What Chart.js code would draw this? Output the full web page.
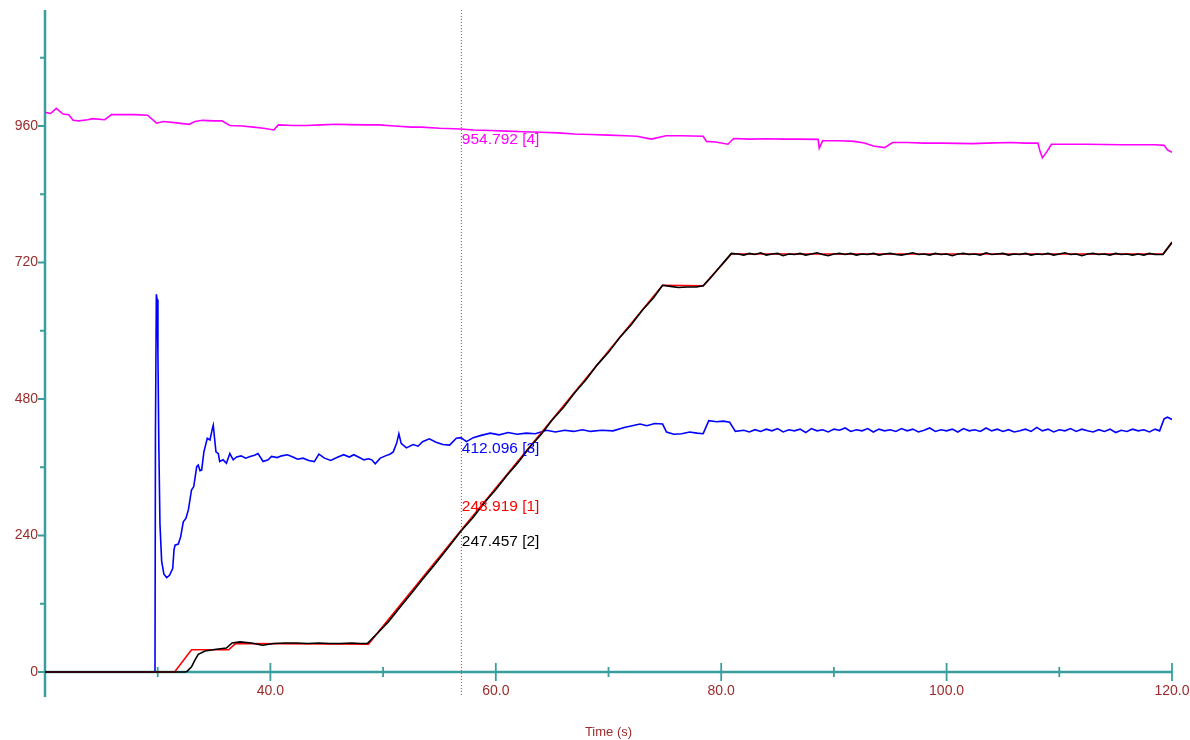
<!DOCTYPE html>
<html>
<head>
<meta charset="utf-8">
<script src="https://cdn.jsdelivr.net/npm/chart.js@4"></script>
<style>
  body { margin: 0; background: #fff; }
  canvas { display: block; }
</style>
</head>
<body>
<canvas id="trendChart" width="1190" height="740"></canvas>
<script>
// axis setup
const xMin = 20, xMax = 120;
const yMin = -44, yMax = 1164;
const xMajorTicks = [40, 60, 80, 100, 120];
const xMajorLabels = ['40.0', '60.0', '80.0', '100.0', '120.0'];
const xMinorTicks = [30, 50, 70, 90, 110];
const yMajorTicks = [0, 240, 480, 720, 960];
const yMajorLabels = ['0', '240', '480', '720', '960'];
const yMinorTicks = [120, 360, 600, 840, 1080];
const xTitle = 'Time (s)';

// cursor readout
const cursorT = 56.9;
const readValues = [248.919, 247.457, 412.096, 954.792];
const readTags = ['[1]', '[2]', '[3]', '[4]'];
const readColors = ['#ff0000', '#000000', '#0000ff', '#ff00ff'];

// [1] red
const redT = [20, 31.5, 33.0, 36.3, 36.9, 48.7, 56.9, 74.8, 78.4, 80.9, 119.2, 120];
const redV = [0, 0, 39, 39, 50, 49, 248.9, 680, 679, 735, 735, 756];

// [2] black
const blkT = [20, 32.4, 32.6, 33.0, 33.3, 33.6, 34.2, 35.2, 36.1, 36.6, 37.3, 38.3, 39.3, 40.3, 41.3, 42.3, 43.3, 44.3, 45.2, 46.2, 47.2, 48.0, 48.6,
  49.5, 50.5, 51.5, 52.5, 53.5, 54.5, 55.5, 56.9, 58, 59, 60, 61, 62, 63, 64, 65, 66, 67, 68, 69, 70, 71, 72, 73, 74, 74.8,
  75.5, 76.2, 77, 77.8, 78.4, 79.0, 79.7, 80.3, 80.9,
  81.5, 82, 82.5, 83, 83.5, 84, 84.5, 85, 85.5, 86, 86.5, 87, 87.5, 88, 88.5, 89, 89.5, 90, 90.5, 91, 91.5, 92, 92.5, 93, 93.5,
  94, 94.5, 95, 95.5, 96, 96.5, 97, 97.5, 98, 98.5, 99, 99.5, 100, 100.5, 101, 101.5, 102, 102.5, 103, 103.5, 104, 104.5, 105, 105.5,
  106, 106.5, 107, 107.5, 108, 108.5, 109, 109.5, 110, 110.5, 111, 111.5, 112, 112.5, 113, 113.5, 114, 114.5, 115, 115.5, 116, 116.5,
  117, 117.5, 118, 118.5, 119.2, 120];
const blkV = [0, 0, 1, 9, 21, 31, 37, 40, 42, 51, 53, 51, 47, 50, 51, 51, 50, 51, 50, 50, 51, 50, 50,
  68, 89, 114, 138, 163, 187, 212, 247.5, 272, 298, 321, 346, 369, 395, 417, 443, 465, 491, 514, 540, 562, 588, 610, 636, 658, 680,
  678, 676, 677, 677, 679, 692, 708, 722, 736,
  735, 733, 736, 734, 737, 733, 735, 736, 732, 735, 734, 736, 733, 735, 737, 734, 732, 735, 736, 734, 736, 733, 735, 734, 736,
  733, 735, 736, 734, 733, 735, 737, 734, 735, 733, 736, 734, 735, 732, 735, 736, 734, 735, 733, 737, 734, 735, 736, 733,
  735, 734, 736, 733, 735, 734, 736, 733, 735, 737, 734, 735, 732, 735, 736, 734, 735, 733, 736, 734, 735, 733,
  735, 733, 736, 734, 734, 755];

// [3] blue
const bluT = [20, 29.76, 29.8, 29.88, 29.95, 30.02, 30.1, 30.2, 30.35, 30.55, 30.8, 31.05, 31.33, 31.45, 31.54, 31.83, 32.04, 32.27, 32.5, 32.72,
  33.0, 33.2, 33.46, 33.6, 33.75, 33.9, 34.1, 34.4, 34.64, 34.85, 34.93, 35.05, 35.17, 35.38, 35.5, 35.8, 36.1, 36.4, 36.7, 37.0,
  37.4, 37.8, 38.2, 38.6, 38.9, 39.35, 39.8, 40.1, 40.6, 41.0, 41.5, 42.0, 42.4, 42.9, 43.4, 43.9, 44.3, 44.8, 45.36, 45.9,
  46.5, 47.0, 47.4, 47.9, 48.3, 48.7, 49.0, 49.3, 49.75, 50.2, 50.6, 50.9, 51.2, 51.4, 51.6, 52.07, 52.66, 53.1, 53.5, 54.1,
  54.7, 55.3, 55.9, 56.5, 56.9, 57.4, 58.0, 58.7, 59.5, 60.3, 61.1, 61.9, 62.7, 63.5, 64.5, 65.3, 66.1, 66.9, 67.7, 68.4,
  69.4, 70.4, 71.4, 72.1, 72.8, 73.4, 74.1, 74.8, 75.15, 75.8, 76.5, 77.2, 77.85, 78.4, 78.9, 79.6, 80.2, 80.75, 81.26, 82.0,
  82.5, 83, 83.5, 84, 84.5, 85, 85.5, 86, 86.5, 87, 87.5, 88, 88.5, 89, 89.5, 90, 90.5, 91, 91.5, 92, 92.5, 93, 93.5, 94, 94.5,
  95, 95.5, 96, 96.5, 97, 97.5, 98, 98.5, 99, 99.5, 100, 100.5, 101, 101.5, 102, 102.5, 103, 103.5, 104, 104.5, 105, 105.5, 106,
  106.5, 107, 107.5, 108, 108.5, 109, 109.5, 110, 110.5, 111, 111.5, 112, 112.5, 113, 113.5, 114, 114.5, 115, 115.5, 116, 116.5,
  117, 117.5, 118, 118.5, 118.9, 119.3, 119.6, 120];
const bluV = [0, 0, 420, 664, 655, 560, 400, 260, 195, 172, 166, 170, 182, 215, 223, 225, 238, 264, 270, 285,
  320, 326, 361, 364, 354, 355, 387, 411, 408, 428, 434, 410, 387, 384, 370, 373, 367, 384, 373, 378,
  380, 376, 379, 381, 384, 370, 373, 379, 377, 380, 382, 378, 374, 376, 372, 370, 383, 376, 372, 377,
  382, 378, 382, 377, 373, 375, 373, 366, 376, 380, 383, 387, 402, 419, 402, 394, 400, 397, 405, 410,
  404, 400, 399, 411, 412, 405, 412, 416, 420, 417, 421, 418, 420, 419, 425, 422, 425, 423, 426, 423,
  425, 424, 430, 433, 436, 433, 437, 436, 422, 418, 419, 422, 420, 419, 442, 440, 441, 439, 423, 425,
  422, 426, 423, 427, 424, 428, 422, 426, 424, 427, 421, 428, 424, 426, 422, 427, 425, 429, 423, 426, 424, 428, 422, 427, 424,
  426, 423, 428, 424, 427, 422, 425, 429, 423, 426, 424, 427, 422, 428, 424, 426, 423, 429, 424, 427, 423, 426, 422,
  424, 427, 423, 430, 424, 427, 422, 426, 424, 428, 423, 427, 424, 422, 426, 423, 427, 421, 425, 423, 427,
  424, 426, 422, 427, 424, 445, 448, 444];

// [4] magenta
const magT = [20, 20.5, 21.0, 21.6, 22.1, 22.5, 23.0, 23.8, 24.2, 25.3, 25.9, 27, 28, 29.1, 29.9, 30.5, 31.5, 32.8, 33.3, 34.0,
  35.0, 35.7, 36.4, 37.5, 38.5, 39.4, 40.3, 40.7, 42, 43.2, 44.5, 45.9, 47, 48.5, 49.6, 51, 52.5, 53.4, 55, 56.9,
  58, 59.5, 61, 62.5, 64, 65.5, 67, 68.4, 70, 71.5, 72.5, 73.8, 75.1, 76.5, 78.4, 78.7, 79.5, 80.6, 81.1, 82.5,
  84, 85.5, 87, 88.6, 88.7, 89.0, 90.5, 91.8, 92.7, 93.5, 94.5, 95.2, 96.5, 98, 99.5, 101, 102.3, 103.5, 105.7, 107,
  108.1, 108.3, 108.5, 108.9, 109.3, 111, 112.5, 114, 115.5, 117, 118.5, 119.3, 119.6, 120];
const magV = [984, 982, 991, 981, 980, 970, 969, 971, 973, 971, 980, 980, 980, 979, 965, 968, 966, 963, 968, 970,
  969, 969, 961, 960, 958, 956, 953, 962, 961, 961, 962, 963, 962.5, 962, 962, 960, 958, 958, 956, 954.8,
  953, 952, 951, 950, 949, 948, 946, 945, 944, 943, 942, 937, 943, 943, 942, 933, 932, 928, 938, 937,
  937.5, 937, 937, 936.5, 921, 934, 934, 933, 930, 925, 922, 931, 931, 930, 930, 929.5, 929, 930, 931, 930,
  930, 915, 904, 915, 928, 928, 928, 927.5, 927, 927, 927, 926, 918, 914];

const teal = '#3a9e9e';
const tickText = '#9c2a2a';
const font = '"Liberation Sans", Arial, sans-serif';

const toPoints = (ts, vs) => ts.map((t, i) => ({ x: t, y: vs[i] }));

// axes crossing at y = 0, drawn off the chart scales
const axesPlugin = {
  id: 'axesPlugin',
  beforeDatasetsDraw(chart) {
    const { ctx, scales: { x, y }, chartArea } = chart;
    const x0 = x.getPixelForValue(xMin);
    const y0 = y.getPixelForValue(0);
    ctx.save();
    ctx.strokeStyle = teal;
    ctx.lineWidth = 2.5;
    ctx.beginPath();
    ctx.moveTo(x0, chartArea.top);
    ctx.lineTo(x0, chartArea.bottom);
    ctx.moveTo(x0, y0);
    ctx.lineTo(x.getPixelForValue(xMax), y0);
    ctx.stroke();

    ctx.lineWidth = 1.8;
    ctx.beginPath();
    xMajorTicks.forEach(t => {
      const px = x.getPixelForValue(t);
      ctx.moveTo(px, y0 - 9);
      ctx.lineTo(px, y0 + 9);
    });
    xMinorTicks.forEach(t => {
      const px = x.getPixelForValue(t);
      ctx.moveTo(px, y0 - 5);
      ctx.lineTo(px, y0 + 5);
    });
    yMajorTicks.forEach(v => {
      const py = y.getPixelForValue(v);
      ctx.moveTo(x0 - 7, py);
      ctx.lineTo(x0, py);
    });
    yMinorTicks.forEach(v => {
      const py = y.getPixelForValue(v);
      ctx.moveTo(x0 - 5, py);
      ctx.lineTo(x0, py);
    });
    ctx.stroke();

    ctx.fillStyle = tickText;
    ctx.font = '14px ' + font;
    ctx.textAlign = 'center';
    ctx.textBaseline = 'middle';
    xMajorTicks.forEach((t, i) => {
      ctx.fillText(xMajorLabels[i], x.getPixelForValue(t), y0 + 19);
    });
    ctx.textAlign = 'right';
    yMajorTicks.forEach((v, i) => {
      ctx.fillText(yMajorLabels[i], x0 - 7, y.getPixelForValue(v));
    });
    ctx.font = '13px ' + font;
    ctx.textAlign = 'center';
    ctx.fillText(xTitle, (chartArea.left + chartArea.right) / 2, 732);
    ctx.restore();
  }
};

// dotted cursor with value readouts
const cursorPlugin = {
  id: 'cursorPlugin',
  afterDatasetsDraw(chart) {
    const { ctx, scales: { x, y }, chartArea } = chart;
    const cx = x.getPixelForValue(cursorT);
    ctx.save();
    ctx.strokeStyle = '#c03a3a';
    ctx.lineWidth = 1;
    ctx.setLineDash([1, 2]);
    ctx.beginPath();
    ctx.moveTo(cx + 0.5, chartArea.top);
    ctx.lineTo(cx + 0.5, chartArea.bottom);
    ctx.stroke();
    ctx.setLineDash([]);

    // place labels bottom-up, pushing overlapping ones upwards
    const order = readValues.map((v, i) => i).sort((a, b) => readValues[a] - readValues[b]);
    let lastTop = Infinity;
    ctx.font = '15.5px ' + font;
    ctx.textAlign = 'left';
    ctx.textBaseline = 'top';
    order.forEach(i => {
      let top = y.getPixelForValue(readValues[i]) + 3;
      if (lastTop - top < 35) top = lastTop - 35;
      lastTop = top;
      ctx.fillStyle = readColors[i];
      ctx.fillText(readValues[i].toFixed(3) + ' ' + readTags[i], cx + 1, top);
    });
    ctx.restore();
  }
};

const line = (label, ts, vs, color) => ({
  label: label,
  data: toPoints(ts, vs),
  borderColor: color,
  borderWidth: 1.6,
  pointRadius: 0,
  tension: 0,
  fill: false
});

new Chart(document.getElementById('trendChart'), {
  type: 'line',
  data: {
    datasets: [
      line('[2]', blkT, blkV, '#000000'),
      line('[1]', redT, redV, '#ff0000'),
      line('[3]', bluT, bluV, '#0000ff'),
      line('[4]', magT, magV, '#ff00ff')
    ]
  },
  options: {
    responsive: false,
    animation: false,
    layout: { padding: { left: 45, right: 18, top: 10, bottom: 43 } },
    scales: {
      x: { type: 'linear', min: xMin, max: xMax, display: false },
      y: { type: 'linear', min: yMin, max: yMax, display: false }
    },
    plugins: {
      legend: { display: false },
      tooltip: { enabled: false }
    }
  },
  plugins: [axesPlugin, cursorPlugin]
});
</script>
</body>
</html>
